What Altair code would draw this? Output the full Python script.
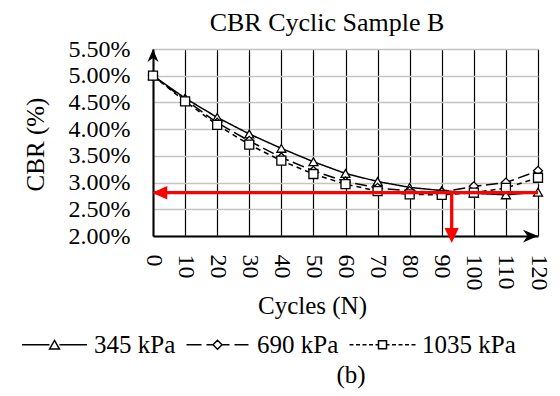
import altair as alt
import pandas as pd

# ---------------- data ----------------
cycles = [0, 10, 20, 30, 40, 50, 60, 70, 80, 90, 100, 110, 120]
cbr_345 = [5.00, 4.58, 4.22, 3.91, 3.64, 3.39, 3.17, 3.02, 2.91, 2.85, 2.80, 2.77, 2.82]
cbr_690 = [5.00, 4.55, 4.12, 3.78, 3.47, 3.22, 3.02, 2.90, 2.84, 2.82, 2.93, 3.00, 3.22]
cbr_1035 = [5.00, 4.52, 4.08, 3.71, 3.41, 3.16, 2.97, 2.84, 2.78, 2.77, 2.81, 2.90, 3.09]
series_names = ["345 kPa", "690 kPa", "1035 kPa"]
x_ticks = [0, 10, 20, 30, 40, 50, 60, 70, 80, 90, 100, 110, 120]
y_ticks = [2.0, 2.5, 3.0, 3.5, 4.0, 4.5, 5.0, 5.5]

# red annotation (target CBR and cycle count)
target_cbr = [2.81]
target_cycles = [93.1]
h_arrow_from = [120]
h_arrow_to = [0.3]
h_arrow_tip = [-0.24]
v_arrow_to = [1.95]
v_arrow_tip = [1.87]

caption = ["(b)"]
chart_title = ["CBR Cyclic Sample B"]

rows = []
for name, vals in zip(series_names, [cbr_345, cbr_690, cbr_1035]):
    for c, v in zip(cycles, vals):
        rows.append({"Cycles": c, "CBR": v, "Series": name})
df = pd.DataFrame(rows)

FONT = "Liberation Serif"

xscale = alt.Scale(domain=[0, 120], nice=False, zero=False)
yscale = alt.Scale(domain=[2.0, 5.5], nice=False, zero=False)

x_axis = alt.Axis(
    values=x_ticks, grid=True, gridColor="black", gridWidth=1.2,
    domainColor="black", domainWidth=2, ticks=False,
    labelAngle=90, labelPadding=18, labelFont=FONT, labelFontSize=24,
    labelColor="black", labelFlush=False, labelOverlap=False,
    title="Cycles (N)", titleFont=FONT, titleFontSize=25, titleFontWeight="normal",
    titleColor="black", titleX=159, titleY=69, titleBaseline="middle", titleAlign="center",
)
y_axis = alt.Axis(
    values=y_ticks, grid=True, gridColor="#c4c4c4", gridWidth=1.3,
    domainColor="black", domainWidth=2, ticks=False,
    labelExpr="format(datum.value, '.2f') + '%'", labelPadding=23,
    labelFont=FONT, labelFontSize=24, labelColor="black",
    labelFlush=False, labelOverlap=False,
    title="CBR (%)", titleFont=FONT, titleFontSize=25, titleFontWeight="normal",
    titleColor="black", titleX=-118, titleY=95, titleAngle=-90,
    titleBaseline="middle", titleAlign="center",
)
X = alt.X("Cycles:Q", scale=xscale, axis=x_axis)
Y = alt.Y("CBR:Q", scale=yscale, axis=y_axis)

# legend symbols: line sample + marker drawn as one path
p345 = "M-6.5,0L-1,0M1,0L6.5,0M-1,0.87L0,-0.87L1,0.87Z"
p690 = ("M-6.2,0L-3.2,0M-2.2,0L-0.9,0M-0.9,0L0,-0.9L0.9,0L0,0.9Z"
        "M0.9,0L2.4,0M3.4,0L6.2,0")
p1035 = ("M-6.6,0L-5.8,0M-5.3,0L-4.5,0M-4.0,0L-3.2,0M-2.7,0L-1.9,0M-1.4,0L-0.8,0"
         "M-0.8,-0.8L0.8,-0.8L0.8,0.8L-0.8,0.8Z"
         "M0.8,0L1.4,0M1.9,0L2.7,0M3.2,0L4.0,0M4.5,0L5.3,0M5.8,0L6.6,0")

legend = alt.Legend(
    orient="none", legendX=-111, legendY=283, direction="horizontal", title=None,
    symbolSize=100, labelFont=FONT, labelFontSize=25, labelColor="black",
    labelOffset=27, columnPadding=7, padding=0,
    symbolStrokeWidth=1.5, symbolStrokeColor="black",
    symbolOpacity=1,
)

base = alt.Chart(df)
dashes = [[1, 0], [12, 4.5], [5, 4]]
marker_shapes = ["triangle-up", "diamond", "square"]
series_layers = []
for name, dash, shp in zip(series_names, dashes, marker_shapes):
    sub = base.transform_filter(alt.datum.Series == name)
    series_layers.append(
        sub.mark_line(strokeWidth=1.5, color="black", strokeDash=dash).encode(x=X, y=Y))
    series_layers.append(
        sub.mark_point(shape=shp, filled=True, fill="white", stroke="black",
                       strokeWidth=1.3, size=81, opacity=1).encode(x=X, y=Y))

# legend-only layer: no marks drawn (explicit domain keeps the three entries)
legend_layer = base.transform_filter("false").mark_point(
    filled=False, color="black", strokeWidth=1.5, size=100, opacity=1
).encode(
    x=X, y=Y,
    shape=alt.Shape("Series:N", scale=alt.Scale(domain=series_names,
                    range=[p345, p690, p1035]), legend=legend),
)

ann = pd.DataFrame({"Cycles": h_arrow_from, "Cycles2": h_arrow_to, "CBR": target_cbr})
red_h = alt.Chart(ann).mark_rule(color="red", strokeWidth=3.3).encode(
    x=X, x2="Cycles2:Q", y=Y)
ann_v = pd.DataFrame({"Cycles": target_cycles, "CBR": target_cbr, "CBR2": v_arrow_to})
red_v = alt.Chart(ann_v).mark_rule(color="red", strokeWidth=3.3).encode(
    x=X, y=Y, y2="CBR2:Q")
head_l = alt.Chart(pd.DataFrame({"Cycles": h_arrow_tip, "CBR": target_cbr})).mark_point(
    shape="M0,0L2,-0.9L2,0.9Z", filled=True, fill="red", strokeWidth=0, size=225, opacity=1
).encode(x=X, y=Y)
head_d = alt.Chart(pd.DataFrame({"Cycles": target_cycles, "CBR": v_arrow_tip})).mark_point(
    shape="M0,0L-0.95,-2L0.95,-2Z", filled=True, fill="red", strokeWidth=0, size=225, opacity=1
).encode(x=X, y=Y)

# black axis arrowheads
ax_up = alt.Chart(pd.DataFrame({"Cycles": [0], "CBR": [5.5]})).mark_point(
    shape="M0,0L0.85,2L0,1.4L-0.85,2Z", filled=True, fill="black", strokeWidth=0,
    size=169, opacity=1).encode(x=X, y=Y)
ax_right = alt.Chart(pd.DataFrame({"Cycles": [120], "CBR": [2.0]})).mark_point(
    shape="M0,0L-2,-0.85L-1.4,0L-2,0.85Z", filled=True, fill="black", strokeWidth=0,
    size=225, opacity=1).encode(x=X, y=Y)

title_txt = alt.Chart(pd.DataFrame({"t": chart_title})).mark_text(
    font=FONT, fontSize=26, color="black", baseline="alphabetic", align="center"
).encode(text="t:N", x=alt.value(174), y=alt.value(-18))
cap = alt.Chart(pd.DataFrame({"t": caption})).mark_text(
    font=FONT, fontSize=25, color="black", baseline="alphabetic", align="center"
).encode(text="t:N", x=alt.value(198), y=alt.value(334))

chart = alt.layer(*series_layers, legend_layer, red_h, red_v, head_l, head_d,
                  ax_up, ax_right, title_txt, cap).properties(
    width=385, height=187,
    autosize=alt.AutoSizeParams(type="none"),
    padding={"left": 153, "top": 49, "right": 22, "bottom": 160},
    background="white",
).configure_view(stroke=None)

chart.save("out.html", embed_options={"renderer": "svg", "actions": False})
